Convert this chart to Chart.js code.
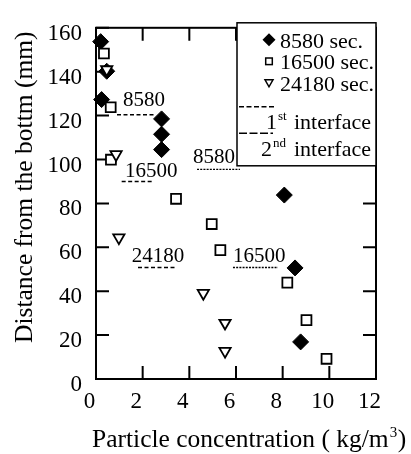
<!DOCTYPE html>
<html>
<head>
<meta charset="utf-8">
<script src="https://cdn.jsdelivr.net/npm/chart.js@4.4.0/dist/chart.umd.min.js"></script>
<style>
html, body { margin: 0; padding: 0; background: #fff; }
#probe { font-family: "Liberation Serif"; position: absolute; left: -999px; top: 0; font-size: 20px; }
</style>
</head>
<body>
<span id="probe">8580 sec. interface</span>
<canvas id="c" width="411" height="454"></canvas>
<script>
const SERIES_NAMES = ["8580 sec.", "16500 sec.", "24180 sec."];

const X_8580 = [0.2, 0.46, 0.24, 2.81, 2.81, 2.81, 8.07, 8.53, 8.77];
const Y_8580 = [153.7, 140.2, 127.3, 118.5, 111.5, 104.5, 83.8, 50.6, 16.9];

const X_16500 = [0.34, 0.63, 0.64, 3.43, 4.96, 5.33, 8.2, 9.02, 9.88];
const Y_16500 = [148.3, 123.8, 99.9, 82.1, 70.6, 58.7, 43.9, 26.8, 9.2];

const X_24180 = [0.46, 0.86, 0.98, 4.6, 5.53, 5.53];
const Y_24180 = [141, 102.3, 64.4, 39.1, 25.5, 12.7];

const X_TICKS = [0, 2, 4, 6, 8, 10, 12];
const Y_TICKS = [0, 20, 40, 60, 80, 100, 120, 140, 160];

// interface marks, one entry per time
const FIRST_LABELS = ["8580", "16500", "24180"];
const FIRST_Y = [120.4, 90, 50.8];
const FIRST_X0 = [0.9, 1.1, 1.8];
const FIRST_X1 = [2.53, 2.45, 3.39];
const FIRST_TEXT_X = [1.16, 1.24, 1.53];
const FIRST_TEXT_Y = [124.4, 91.9, 53.2];

const SECOND_LABELS = ["8580", "16500"];
const SECOND_Y = [95.5, 50.8];
const SECOND_X0 = [4.33, 5.87];
const SECOND_X1 = [6.17, 7.8];
const SECOND_TEXT_X = [4.16, 5.87];
const SECOND_TEXT_Y = [98.5, 53.2];

const FONT = "Liberation Serif";
const TICK = 13;

function pts(xs, ys) { return xs.map((x, i) => ({ x: x, y: ys[i] })); }

const datasets = [
  {
    label: SERIES_NAMES[0], data: pts(X_8580, Y_8580), order: 3, clip: false,
    pointStyle: "rectRot", pointRadius: 8, pointBackgroundColor: "#000",
    pointBorderColor: "#000", pointBorderWidth: 1
  },
  {
    label: SERIES_NAMES[1], data: pts(X_16500, Y_16500), order: 2, clip: false,
    pointStyle: "rect", pointRadius: 7, pointBackgroundColor: "#fff",
    pointBorderColor: "#000", pointBorderWidth: 1.8
  },
  {
    label: SERIES_NAMES[2], data: pts(X_24180, Y_24180), order: 1, clip: false,
    pointStyle: "triangle", pointRotation: 180, pointRadius: 6.5, pointBackgroundColor: "#fff",
    pointBorderColor: "#000", pointBorderWidth: 1.8
  }
];

FIRST_Y.forEach((y, i) => datasets.push({
  label: "1st " + FIRST_LABELS[i], data: pts([FIRST_X0[i], FIRST_X1[i]], [y, y]), order: 5,
  showLine: true, pointRadius: 0, borderColor: "#000", borderWidth: 1.5, borderDash: [4, 2.5]
}));
SECOND_Y.forEach((y, i) => datasets.push({
  label: "2nd " + SECOND_LABELS[i], data: pts([SECOND_X0[i], SECOND_X1[i]], [y, y]), order: 5,
  showLine: true, pointRadius: 0, borderColor: "#000", borderWidth: 1.3, borderDash: [2, 1.2]
}));

function f(size) { return size + "px '" + FONT + "'"; }

function drawSup(ctx, x, y, base, sup, rest, restX) {
  ctx.font = f(22);
  ctx.fillText(base, x, y);
  const w = ctx.measureText(base).width;
  ctx.font = f(13);
  ctx.fillText(sup, x + w + 1, y - 9);
  ctx.font = f(22);
  ctx.fillText(rest, restX, y);
}

const frame = {
  id: "frame",
  beforeDatasetsDraw(chart) {
    const { ctx, chartArea: a, scales: { x, y } } = chart;
    ctx.save();
    ctx.strokeStyle = "#000";
    ctx.lineWidth = 2;
    ctx.strokeRect(a.left, a.top, a.right - a.left, a.bottom - a.top);
    ctx.beginPath();
    X_TICKS.forEach(v => {
      const p = x.getPixelForValue(v);
      ctx.moveTo(p, a.bottom); ctx.lineTo(p, a.bottom - TICK);
      ctx.moveTo(p, a.top); ctx.lineTo(p, a.top + TICK);
    });
    Y_TICKS.forEach(v => {
      const p = y.getPixelForValue(v);
      ctx.moveTo(a.left, p); ctx.lineTo(a.left + TICK, p);
      ctx.moveTo(a.right, p); ctx.lineTo(a.right - TICK, p);
    });
    ctx.stroke();
    ctx.restore();
  },
  afterDatasetsDraw(chart) {
    const { ctx, scales: { x, y } } = chart;
    ctx.save();
    ctx.fillStyle = "#000";
    ctx.font = f(21);
    ctx.textBaseline = "alphabetic";
    FIRST_LABELS.forEach((t, i) => ctx.fillText(t, x.getPixelForValue(FIRST_TEXT_X[i]), y.getPixelForValue(FIRST_TEXT_Y[i])));
    SECOND_LABELS.forEach((t, i) => ctx.fillText(t, x.getPixelForValue(SECOND_TEXT_X[i]), y.getPixelForValue(SECOND_TEXT_Y[i])));
    ctx.restore();
  },
  afterDraw(chart) {
    const { ctx, chartArea: a } = chart;
    ctx.save();
    // legend box
    const bx = a.right - 139, by = a.top - 5, bw = 139, bh = 143;
    ctx.fillStyle = "#fff";
    ctx.fillRect(bx, by, bw, bh);
    ctx.strokeStyle = "#000";
    ctx.lineWidth = 1.5;
    ctx.strokeRect(bx, by, bw, bh);

    ctx.fillStyle = "#000";
    const mx = bx + 32, tx = bx + 43;
    const rows = [by + 17, by + 38.5, by + 60];
    // diamond
    ctx.beginPath();
    ctx.moveTo(mx, rows[0] - 6.5); ctx.lineTo(mx + 6.5, rows[0]);
    ctx.lineTo(mx, rows[0] + 6.5); ctx.lineTo(mx - 6.5, rows[0]); ctx.closePath();
    ctx.fill();
    // square
    ctx.lineWidth = 1.5;
    ctx.strokeRect(mx - 3.3, rows[1] - 3.3, 6.6, 6.6);
    // triangle down
    ctx.beginPath();
    ctx.moveTo(mx - 4, rows[2] - 3); ctx.lineTo(mx + 4, rows[2] - 3);
    ctx.lineTo(mx, rows[2] + 4); ctx.closePath();
    ctx.stroke();

    ctx.font = f(22);
    ctx.textBaseline = "alphabetic";
    SERIES_NAMES.forEach((s, i) => ctx.fillText(s, tx, rows[i] + 8));

    ctx.lineWidth = 1.5;
    ctx.setLineDash([5, 2.5]);
    ctx.beginPath(); ctx.moveTo(bx + 2, by + 84); ctx.lineTo(bx + 37, by + 84); ctx.stroke();
    ctx.setLineDash([8, 2.5]);
    ctx.beginPath(); ctx.moveTo(bx + 2, by + 110.5); ctx.lineTo(bx + 36, by + 110.5); ctx.stroke();
    ctx.setLineDash([]);

    drawSup(ctx, bx + 29, by + 106.5, "1", "st", "interface", bx + 57);
    drawSup(ctx, bx + 24, by + 133, "2", "nd", "interface", bx + 57);

    // axis titles
    ctx.font = f(25.5);
    ctx.fillText("Particle concentration ( kg/m", 92, 447);
    const w = ctx.measureText("Particle concentration ( kg/m").width;
    ctx.font = f(15);
    ctx.fillText("3", 92 + w + 1, 437);
    ctx.font = f(25.5);
    ctx.fillText(")", 92 + w + 9, 447);

    ctx.translate(32, 343);
    ctx.rotate(-Math.PI / 2);
    ctx.fillText("Distance from the bottm (mm)", 0, 0);
    ctx.restore();
  }
};

function draw() {
  new Chart(document.getElementById("c"), {
    type: "scatter",
    data: { datasets: datasets },
    options: {
      responsive: false,
      animation: false,
      events: [],
      layout: { padding: { top: 15, right: 35, left: 0, bottom: 0 } },
      plugins: { legend: { display: false }, tooltip: { enabled: false } },
      scales: {
        x: {
          type: "linear", min: 0, max: 12,
          afterBuildTicks: s => { s.ticks = X_TICKS.map(v => ({ value: v })); },
          afterFit: s => { s.height = 75; },
          grid: { display: false, drawTicks: false },
          border: { display: false },
          ticks: { color: "#000", font: { family: "'" + FONT + "'", size: 23 }, padding: 9, labelOffset: -6.5 }
        },
        y: {
          type: "linear", min: 0, max: 160,
          afterBuildTicks: s => { s.ticks = Y_TICKS.map(v => ({ value: v })); },
          afterFit: s => { s.width = 96; },
          grid: { display: false, drawTicks: false },
          border: { display: false },
          ticks: { color: "#000", font: { family: "'" + FONT + "'", size: 23 }, padding: 14, labelOffset: 6 }
        }
      }
    },
    plugins: [frame]
  });
}

if (document.fonts && document.fonts.load) {
  document.fonts.load(f(22)).then(draw, draw);
} else {
  draw();
}
</script>
</body>
</html>
